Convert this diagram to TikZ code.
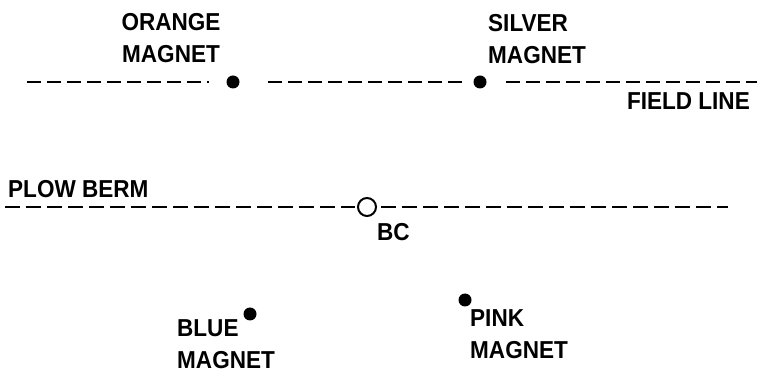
\documentclass[tikz,border=0pt]{standalone}
\usepackage{fontspec}
\setmainfont{Liberation Sans}
\newfontfamily\cadfont[FakeStretch=0.92]{Liberation Sans}
\begin{document}
\begin{tikzpicture}[line join=bevel,
  magnet/.style={circle,fill=black,inner sep=0pt,minimum size=13bp},
  bcmark/.style={circle,draw=black,line width=2bp,inner sep=0pt,minimum size=18bp},
  label/.style={inner sep=0pt,align=left,font=\cadfont\bfseries\fontsize{24.5bp}{32bp}\selectfont},
  fieldline/.style={line width=2bp,dash pattern=on 14bp off 6bp},
  bermline/.style={line width=2bp,dash pattern=on 15bp off 6bp}]
  \useasboundingbox (0bp,0bp) rectangle (763bp,376bp);
%%
  % Node: orange
  \node[magnet] (orange) at (233bp,294bp) {};
  \node[label,align=center] (orangelbl) at (171bp,338bp) {ORANGE\\MAGNET};
  % Node: silver
  \node[magnet] (silver) at (480bp,294bp) {};
  \node[label,anchor=west] (silverlbl) at (488bp,337bp) {SILVER\\MAGNET};
  % Node: bc
  \node[bcmark] (bc) at (367bp,169bp) {};
  \node[label,anchor=west] (bclbl) at (377bp,144bp) {BC};
  % Node: blue
  \node[magnet] (blue) at (250bp,62bp) {};
  \node[label,anchor=west] (bluelbl) at (177bp,32bp) {BLUE\\MAGNET};
  % Node: pink
  \node[magnet] (pink) at (465bp,76bp) {};
  \node[label,anchor=west] (pinklbl) at (470bp,42bp) {PINK\\MAGNET};
  % Line ends
  \coordinate (fieldW) at (27bp,294bp);
  \coordinate (fieldE) at (757bp,294bp);
  \coordinate (bermW) at (5bp,169bp);
  \coordinate (bermE) at (728bp,169bp);
  \node[label,anchor=east] (fieldlbl) at (750bp,275bp) {FIELD LINE};
  \node[label,anchor=west] (bermlbl) at (8bp,187bp) {PLOW BERM};
%%
  % Edge: field line
  \draw[fieldline,shorten >=17bp] (fieldW) -- (orange);
  \draw[fieldline,shorten <=28bp,shorten >=11bp] (orange) -- (silver);
  \draw[fieldline,shorten <=19bp] (silver) -- (fieldE);
  % Edge: plow berm
  \draw[bermline,shorten >=2bp] (bermW) -- (bc);
  \draw[bermline,shorten <=4bp] (bc) -- (bermE);
%
\end{tikzpicture}
\end{document}
